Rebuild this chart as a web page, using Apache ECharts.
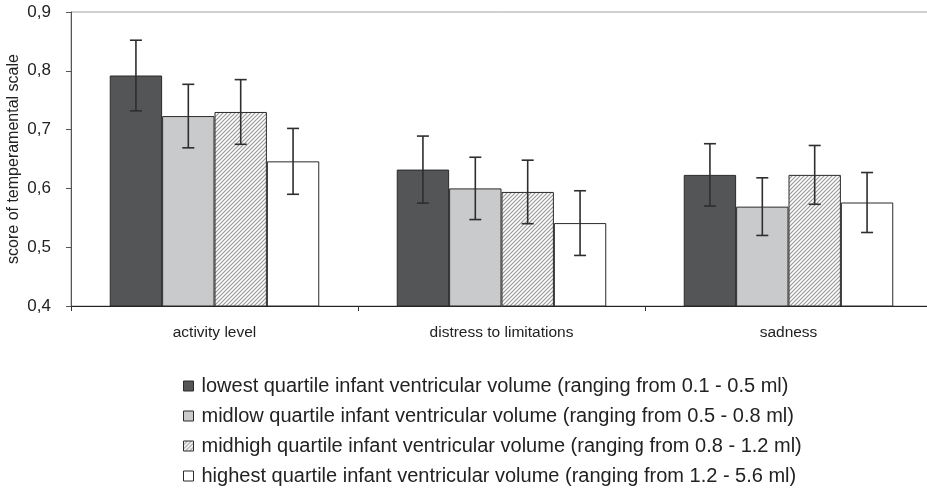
<!DOCTYPE html>
<html>
<head>
<meta charset="utf-8">
<script src="https://cdn.jsdelivr.net/npm/echarts@6/dist/echarts.min.js"></script>
<style>
  html, body { margin: 0; padding: 0; background: #fff; overflow: hidden; }
  #chart { width: 934px; height: 490px; }
</style>
</head>
<body>
<div id="chart"></div>
<script>
const categories = ['activity level', 'distress to limitations', 'sadness']
const seriesNames = [
    'lowest quartile infant ventricular volume (ranging from 0.1 - 0.5 ml)',
    'midlow quartile infant ventricular volume (ranging from 0.5 - 0.8 ml)',
    'midhigh quartile infant ventricular volume (ranging from 0.8 - 1.2 ml)',
    'highest quartile infant ventricular volume (ranging from 1.2 - 5.6 ml)'
]
const lowest = [0.792, 0.632, 0.623]
const midlow = [0.723, 0.600, 0.569]
const midhigh = [0.730, 0.594, 0.623]
const highest = [0.646, 0.541, 0.576]
// half width of error bars
const lowestErr = [0.060, 0.057, 0.053]
const midlowErr = [0.054, 0.053, 0.049]
const midhighErr = [0.055, 0.054, 0.050]
const highestErr = [0.056, 0.055, 0.051]

const values = [lowest, midlow, midhigh, highest]
const errs = [lowestErr, midlowErr, midhighErr, highestErr]

// hatch pattern for midhigh
const makeHatch = () => {
    const c = document.createElement('canvas')
    c.width = 4
    c.height = 4
    const ctx = c.getContext('2d')
    ctx.fillStyle = '#ffffff'
    ctx.fillRect(0, 0, 4, 4)
    ctx.strokeStyle = '#9a9a9a'
    ctx.lineWidth = 1.2
    ctx.beginPath()
    ctx.moveTo(-1, 5); ctx.lineTo(5, -1)
    ctx.moveTo(-1, 1); ctx.lineTo(1, -1)
    ctx.moveTo(3, 5); ctx.lineTo(5, 3)
    ctx.stroke()
    return c
}

const fills = ['#545557', '#c9cacc', { image: makeHatch(), repeat: 'repeat' }, '#ffffff']
const gapPct = 27
const font = 'Liberation Sans, Arial, sans-serif'

const chart = echarts.init(document.getElementById('chart'))

let errData = []
values.forEach((arr, s) => {
    arr.forEach((v, i) => {
        errData.push([i, s, v - errs[s][i], v + errs[s][i]])
    })
})

const barSeries = values.map((arr, s) => ({
    name: seriesNames[s],
    type: 'bar',
    data: arr,
    barGap: '0%',
    barCategoryGap: gapPct + '%',
    itemStyle: { color: fills[s], borderColor: '#2a2a2a', borderWidth: 1 },
    emphasis: { disabled: true },
    z: 2
}))

const errSeries = {
    type: 'custom',
    name: 'err',
    z: 5,
    data: errData,
    encode: { x: 0, y: [2, 3] },
    renderItem: function (params, api) {
        const cat = api.value(0)
        const s = api.value(1)
        const lo = api.coord([cat, api.value(2)])
        const hi = api.coord([cat, api.value(3)])
        const catW = api.size([1, 0])[0]
        const barW = catW * (1 - gapPct / 100) / 4
        const x = lo[0] + (s - 1.5) * barW
        const cap = 6
        const st = { stroke: '#2e2e2e', lineWidth: 1.6 }
        return {
            type: 'group',
            children: [
                { type: 'line', shape: { x1: x, y1: hi[1], x2: x, y2: lo[1] }, style: st },
                { type: 'line', shape: { x1: x - cap, y1: hi[1], x2: x + cap, y2: hi[1] }, style: st },
                { type: 'line', shape: { x1: x - cap, y1: lo[1], x2: x + cap, y2: lo[1] }, style: st }
            ]
        }
    }
}

chart.setOption({
    animation: false,
    grid: {
        left: 71, top: 12, right: 2, bottom: 184,
        outerBoundsMode: 'none',
        show: true, borderColor: '#a0a0a0', borderWidth: 1
    },
    legend: {
        data: seriesNames,
        orient: 'vertical',
        left: 183,
        top: 376,
        padding: 0,
        height: 112,
        icon: 'rect',
        itemWidth: 10,
        itemHeight: 10,
        itemGap: 10,
        itemStyle: { borderColor: '#2a2a2a', borderWidth: 1 },
        textStyle: { fontFamily: font, fontSize: 20, color: '#222', padding: [0, 0, 0, 3] }
    },
    xAxis: {
        type: 'category',
        data: categories,
        axisLine: { lineStyle: { color: '#222', width: 1 } },
        axisTick: { show: true, length: 5, lineStyle: { color: '#333' } },
        axisLabel: { fontFamily: font, fontSize: 15.5, color: '#222', margin: 19 },
        splitLine: { show: false }
    },
    yAxis: {
        type: 'value',
        min: 0.4,
        max: 0.9,
        interval: 0.1,
        name: 'score of temperamental scale',
        nameLocation: 'middle',
        nameGap: 49,
        nameMoveOverlap: false,
        nameTextStyle: { fontFamily: font, fontSize: 16, color: '#222' },
        axisLine: { show: true, lineStyle: { color: '#555', width: 1 } },
        axisTick: { show: true, length: 5, lineStyle: { color: '#555' } },
        axisLabel: {
            fontFamily: font, fontSize: 17, color: '#222', margin: 20,
            formatter: v => v.toFixed(1).replace('.', ',')
        },
        splitLine: { show: false }
    },
    series: barSeries.concat([errSeries])
})
</script>
</body>
</html>
